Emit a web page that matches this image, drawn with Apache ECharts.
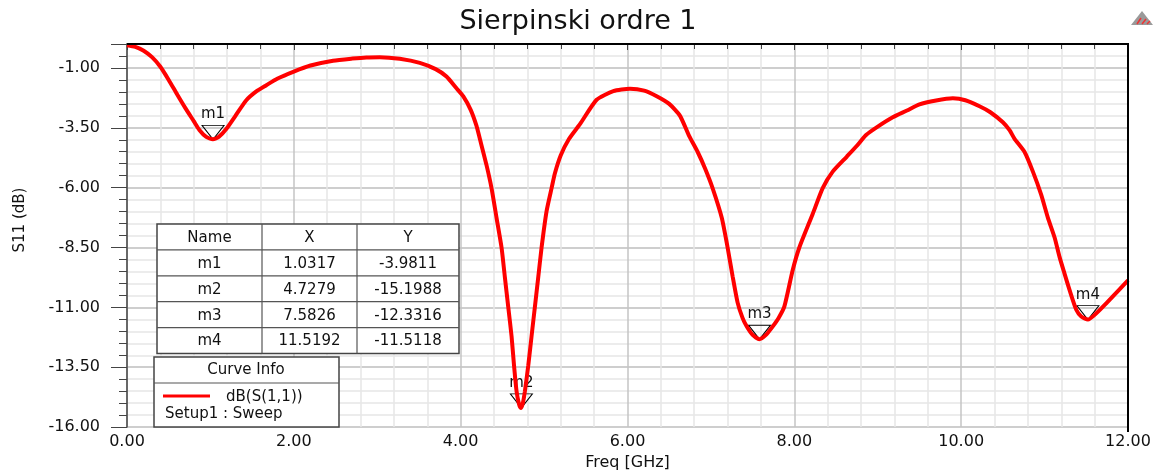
<!DOCTYPE html>
<html>
<head>
<meta charset="utf-8">
<script src="https://cdn.jsdelivr.net/npm/echarts@6/dist/echarts.min.js"></script>
<style>
  html, body { margin: 0; padding: 0; background: #fff; }
  #chart { width: 1160px; height: 476px; }
</style>
</head>
<body>
<div id="chart"></div>
<script>
// S11 sweep
const freqGHz = [0, 0.1, 0.2, 0.3, 0.4, 0.5, 0.6, 0.7, 0.8, 0.87, 0.95, 1.03, 1.1, 1.19, 1.3, 1.43, 1.55, 1.67, 1.8, 2.0,
  2.2, 2.47, 2.7, 2.87, 3.03, 3.27, 3.51, 3.7, 3.83, 3.95, 4.03, 4.12, 4.19, 4.23, 4.31, 4.37, 4.43, 4.49, 4.53, 4.57,
  4.61, 4.64, 4.67, 4.7, 4.72, 4.745, 4.77, 4.81, 4.85, 4.89, 4.93, 4.97, 5.03, 5.09, 5.13, 5.2, 5.3, 5.43, 5.63, 5.83,
  6.03, 6.2, 6.35, 6.5, 6.63, 6.74, 6.84, 6.93, 7.02, 7.13, 7.2, 7.26, 7.32, 7.38, 7.43, 7.5, 7.58, 7.66, 7.74, 7.81,
  7.88, 7.98, 8.06, 8.22, 8.34, 8.46, 8.63, 8.75, 8.86, 9.0, 9.18, 9.35, 9.5, 9.7, 9.9, 10.05, 10.22, 10.35, 10.5, 10.58,
  10.64, 10.76, 10.86, 10.96, 11.04, 11.12, 11.18, 11.24, 11.3, 11.38, 11.44, 11.52, 11.62, 11.74, 11.87, 12.0]
const s11dB = [-0.05, -0.12, -0.28, -0.55, -0.95, -1.5, -2.1, -2.68, -3.22, -3.6, -3.88, -3.98, -3.88, -3.55, -3.0, -2.35, -1.98, -1.72, -1.45, -1.15,
  -0.9, -0.7, -0.61, -0.56, -0.55, -0.62, -0.79, -1.05, -1.36, -1.85, -2.18, -2.75, -3.42, -3.96, -5.06, -6.02, -7.26, -8.5, -9.74, -10.97,
  -12.2, -13.44, -14.5, -15.05, -15.2, -15.0, -14.5, -13.44, -12.2, -10.97, -9.74, -8.5, -6.98, -6.02, -5.4, -4.65, -3.96, -3.35, -2.33, -1.97,
  -1.87, -1.95, -2.18, -2.5, -3.0, -3.85, -4.5, -5.2, -6.02, -7.26, -8.5, -9.7, -10.8, -11.45, -11.8, -12.15, -12.33, -12.15, -11.8, -11.45,
  -10.97, -9.45, -8.5, -7.1, -6.02, -5.33, -4.7, -4.25, -3.8, -3.45, -3.06, -2.78, -2.52, -2.36, -2.27, -2.35, -2.6, -2.85, -3.27, -3.6,
  -3.96, -4.51, -5.33, -6.3, -7.26, -8.08, -8.9, -9.6, -10.28, -11.1, -11.38, -11.51, -11.25, -10.83, -10.35, -9.87]

// markers (table values)
const markerNames = ['m1', 'm2', 'm3', 'm4']
const markerFreq = [1.0317, 4.7279, 7.5826, 11.5192]
const markerS11 = [-3.9811, -15.1988, -12.3316, -11.5118]

const font = 'DejaVu Sans'
const chart = echarts.init(document.getElementById('chart'))

// marker table
const colX = [157, 262, 357, 459]
const tblTop = 224
const rowH = 25.9
const tableRows = [['Name', 'X', 'Y']].concat(markerNames.map((n, i) => [
  n, markerFreq[i].toFixed(4), markerS11[i].toFixed(4)
]))
const tableEls = [{
  type: 'rect', shape: { x: colX[0], y: tblTop, width: colX[3] - colX[0], height: rowH * tableRows.length },
  style: { fill: '#fff', stroke: '#444', lineWidth: 1.5 }, z: 10
}]
for (let r = 1; r < tableRows.length; r++) {
  tableEls.push({ type: 'line', shape: { x1: colX[0], y1: tblTop + r * rowH, x2: colX[3], y2: tblTop + r * rowH },
    style: { stroke: '#555', lineWidth: 1.2 }, z: 11 })
}
for (let c = 1; c < 3; c++) {
  tableEls.push({ type: 'line', shape: { x1: colX[c], y1: tblTop, x2: colX[c], y2: tblTop + rowH * tableRows.length },
    style: { stroke: '#555', lineWidth: 1.2 }, z: 11 })
}
tableRows.forEach((row, r) => {
  row.forEach((txt, c) => {
    tableEls.push({ type: 'text', x: (colX[c] + colX[c + 1]) / 2, y: tblTop + r * rowH + rowH / 2 + 1, z: 12,
      style: { text: txt, font: '15px "' + font + '"', fill: '#111', align: 'center', verticalAlign: 'middle' } })
  })
})

// curve info box
const infoEls = [
  { type: 'rect', shape: { x: 154, y: 357, width: 185, height: 70 }, style: { fill: '#fff', stroke: '#444', lineWidth: 1.5 }, z: 10 },
  { type: 'line', shape: { x1: 154, y1: 383, x2: 339, y2: 383 }, style: { stroke: '#555', lineWidth: 1.2 }, z: 11 },
  { type: 'text', x: 246, y: 370, z: 12, style: { text: 'Curve Info', font: '15px "' + font + '"', fill: '#111', align: 'center', verticalAlign: 'middle' } },
  { type: 'line', shape: { x1: 163, y1: 396, x2: 210, y2: 396 }, style: { stroke: '#ff0000', lineWidth: 3 }, z: 11 },
  { type: 'text', x: 226, y: 397, z: 12, style: { text: 'dB(S(1,1))', font: '15px "' + font + '"', fill: '#111', align: 'left', verticalAlign: 'middle' } },
  { type: 'text', x: 165, y: 414, z: 12, style: { text: 'Setup1 : Sweep', font: '15px "' + font + '"', fill: '#111', align: 'left', verticalAlign: 'middle' } }
]

const option = {
  animation: false,
  backgroundColor: '#fff',
  grid: { left: 127, right: 32, top: 44, bottom: 44, containLabel: false },
  xAxis: {
    type: 'value', min: 0, max: 12, interval: 2,
    name: 'Freq [GHz]', nameLocation: 'middle', nameGap: 25,
    nameTextStyle: { fontFamily: font, fontSize: 16, color: '#111' },
    axisLine: { show: true, lineStyle: { color: '#444', width: 1.5 } },
    axisTick: { show: true, length: 6, lineStyle: { color: '#444' } },
    minorTick: { show: true, splitNumber: 5, length: 5, lineStyle: { color: '#444' } },
    axisLabel: { formatter: v => v.toFixed(2), fontFamily: font, fontSize: 16, color: '#111', margin: 7 },
    splitLine: { show: true, lineStyle: { color: '#c4c4c4', width: 1.5 } },
    minorSplitLine: { show: true, lineStyle: { color: '#e6e6e6', width: 1.5 } }
  },
  yAxis: [
    {
      type: 'value', min: -16, max: 0, interval: 0.5, position: 'left', offset: 0,
      axisLine: { show: true, onZero: false, lineStyle: { color: '#444', width: 1.5 } },
      axisTick: { show: true, length: 8, lineStyle: { color: '#444' } },
      axisLabel: { show: false },
      splitLine: { show: true, lineStyle: { color: '#e6e6e6', width: 1.5 } }
    },
    {
      type: 'value', min: -16, max: 0, interval: 2.5, position: 'left', offset: 0,
      axisLine: { show: false, onZero: false },
      axisTick: { show: true, length: 16, lineStyle: { color: '#444' } },
      axisLabel: { formatter: v => (v > -0.5 ? '' : v.toFixed(2)), fontFamily: font, fontSize: 16, color: '#111', margin: 27 },
      splitLine: { show: true, lineStyle: { color: '#c4c4c4', width: 1.5 } }
    }
  ],
  series: [{
    name: 'dB(S(1,1))',
    type: 'line',
    yAxisIndex: 0,
    data: freqGHz.map((f, i) => [f, s11dB[i]]),
    showSymbol: false,
    smooth: 0.2,
    lineStyle: { color: '#ff0000', width: 4 },
    markPoint: {
      symbol: 'path://M0,0 L22,0 L11,14 Z',
      symbolSize: [22, 14],
      symbolOffset: [0, -7],
      itemStyle: { color: 'rgba(255,255,255,0)', borderColor: '#000', borderWidth: 1 },
      label: { show: true, position: 'top', distance: 3, formatter: '{b}', color: '#111', fontFamily: font, fontSize: 15 },
      data: markerNames.map((n, i) => ({ name: n, coord: [markerFreq[i], markerS11[i]] }))
    },
    z: 5
  }],
  graphic: [
    { type: 'text', x: 578, y: 22, style: { text: 'Sierpinski ordre 1', font: '27px "' + font + '"', fill: '#111', align: 'center', verticalAlign: 'middle' } },
    { type: 'text', x: 20, y: 220, rotation: Math.PI / 2, style: { text: 'S11 (dB)', font: '15px "' + font + '"', fill: '#111', align: 'center', verticalAlign: 'middle' } },
    // plot frame top and right
    { type: 'polyline', shape: { points: [[127, 44], [1128, 44], [1128, 432]] }, style: { stroke: '#000', lineWidth: 2, fill: null }, z: 20 },
    // logo in the corner
    { type: 'polygon', shape: { points: [[1131, 25], [1142, 11], [1153, 25]] }, style: { fill: '#9a9a9a' } },
    { type: 'line', shape: { x1: 1137, y1: 24, x2: 1141, y2: 18 }, style: { stroke: '#e33', lineWidth: 1.5 } },
    { type: 'line', shape: { x1: 1142, y1: 24, x2: 1146, y2: 19 }, style: { stroke: '#e33', lineWidth: 1.5 } },
    { type: 'line', shape: { x1: 1147, y1: 24, x2: 1150, y2: 21 }, style: { stroke: '#e33', lineWidth: 1.5 } }
  ].concat(tableEls, infoEls)
}

chart.setOption(option)
</script>
</body>
</html>
